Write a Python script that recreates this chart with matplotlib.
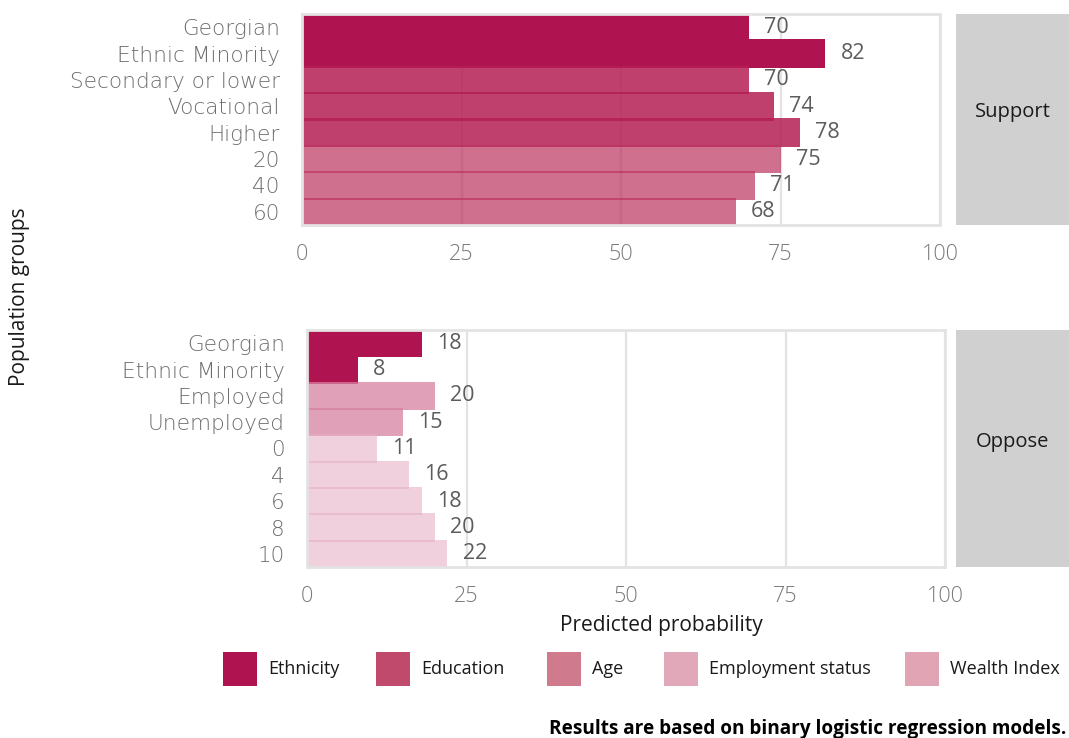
import matplotlib
matplotlib.use('Agg')
import matplotlib.pyplot as plt
from matplotlib.patches import Rectangle
from matplotlib.colors import to_rgba

plt.rcParams['font.family'] = ['Open Sans', 'DejaVu Sans']

# data
support_labels = ['Georgian', 'Ethnic Minority', 'Secondary or lower', 'Vocational',
                  'Higher', '20', '40', '60']
support_values = [70, 82, 70, 74, 78, 75, 71, 68]
support_groups = ['Ethnicity', 'Ethnicity', 'Education', 'Education', 'Education',
                  'Age', 'Age', 'Age']

oppose_labels = ['Georgian', 'Ethnic Minority', 'Employed', 'Unemployed',
                 '0', '4', '6', '8', '10']
oppose_values = [18, 8, 20, 15, 11, 16, 18, 20, 22]
oppose_groups = ['Ethnicity', 'Ethnicity', 'Employment status', 'Employment status',
                 'Wealth Index', 'Wealth Index', 'Wealth Index', 'Wealth Index', 'Wealth Index']

legend_labels = ['Ethnicity', 'Education', 'Age', 'Employment status', 'Wealth Index']
x_ticks = [0, 25, 50, 75, 100]

# bar fill base colour + alpha per group (bars overlap a hair -> darker seams)
bar_style = {
    'Ethnicity': ('#b01450', 1.0),
    'Education': ('#b51e54', 0.85),
    'Age': ('#bc3360', 0.7),
    'Employment status': ('#d680a0', 0.75),
    'Wealth Index': ('#e6b1c5', 0.6),
}
legend_colors = ['#b01450', '#c04a6c', '#d07a8e', '#e0a8b8', '#e0a4b4']

W, H = 1069, 738
fig = plt.figure(figsize=(W / 100, H / 100), dpi=100)


def px_axes(left, top, right, bottom):
    return fig.add_axes([left / W, 1 - bottom / H, (right - left) / W, (bottom - top) / H])


def draw_panel(ax, labels, values, groups):
    n = len(labels)
    ypos = list(range(n))
    for y, v, g in zip(ypos, values, groups):
        fc, a = bar_style[g]
        ax.barh(y, v, height=1.08, color=to_rgba(fc, a), edgecolor='none', zorder=2)
        ax.text(v + 2.4, y, str(v), ha='left', va='center', fontsize=15.5,
                color='#5c5c5c', zorder=3)
    ax.set_xlim(0, 100)
    ax.set_ylim(n - 0.5, -0.5)
    ax.set_yticks(ypos)
    ax.set_yticklabels(labels, family=['DejaVu Sans'], fontsize=15.6, fontweight='light',
                       color='#6e6e6e')
    ax.set_xticks(x_ticks)
    ax.set_xticklabels([str(t) for t in x_ticks], fontweight='light', fontsize=15.5,
                       color='#7a7a7a')
    ax.tick_params(axis='both', length=0)
    ax.tick_params(axis='y', pad=16)
    ax.tick_params(axis='x', pad=14)
    ax.xaxis.grid(True, color='#e3e3e3', linewidth=1.6, zorder=0)
    ax.set_axisbelow(True)
    for s in ax.spines.values():
        s.set_color('#e3e3e3')
        s.set_linewidth(2)


def draw_strip(left, top, right, bottom, text):
    sax = px_axes(left, top, right, bottom)
    sax.set_facecolor('#d0d0d0')
    sax.set_xticks([])
    sax.set_yticks([])
    for s in sax.spines.values():
        s.set_visible(False)
    sax.text(0.5, 0.5 + 7 / (bottom - top), text, ha='center', va='center', fontsize=14.5,
             color='#1a1a1a', transform=sax.transAxes)


ax1 = px_axes(302, 14, 940, 225)
draw_panel(ax1, support_labels, support_values, support_groups)
draw_strip(956, 14, 1069, 225, 'Support')

ax2 = px_axes(307, 330, 945, 567)
draw_panel(ax2, oppose_labels, oppose_values, oppose_groups)
draw_strip(956, 330, 1069, 567, 'Oppose')

fig.text(20 / W, 1 - 297 / H, 'Population groups', rotation=90, ha='center', va='center',
         fontsize=15, color='#1a1a1a')
fig.text(661 / W, 1 - 625 / H, 'Predicted probability', ha='center', va='center',
         fontsize=15, color='#1a1a1a')

# legend
sw_x = [223, 376, 547, 664, 905]
for x, lab, c in zip(sw_x, legend_labels, legend_colors):
    fig.patches.append(Rectangle((x / W, 1 - 686 / H), 34 / W, 34 / H, facecolor=c,
                                 edgecolor='none', transform=fig.transFigure))
    fig.text((x + 45) / W, 1 - 669 / H, lab, ha='left', va='center', fontsize=13,
             color='#1a1a1a')

fig.text(1066 / W, 1 - 729 / H, 'Results are based on binary logistic regression models.',
         ha='right', va='center', fontsize=13.7, fontweight='bold', color='#000000')

fig.savefig('out.png', dpi=100)
